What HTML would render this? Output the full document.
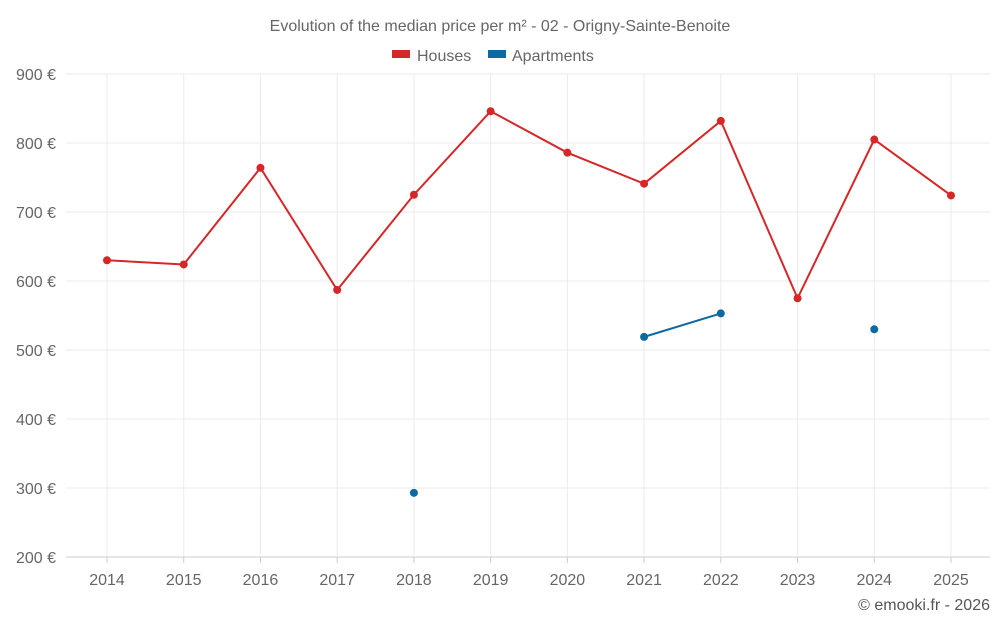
<!DOCTYPE html>
<html><head><meta charset="utf-8"><style>
body{margin:0;background:#fff;font-family:"Liberation Sans",sans-serif;}
svg{display:block}
</style></head><body>
<svg id="chart" width="1000" height="625">
<text x="500" y="31" text-anchor="middle" font-size="16" fill="#666">Evolution of the median price per m² - 02 - Origny-Sainte-Benoite</text>
<g>
<g><rect x="392" y="50" width="18" height="8" fill="#d62728"/><text x="417" y="61" font-size="16" fill="#666">Houses</text></g>
<g><rect x="488" y="50" width="18" height="8" fill="#0b6aa2"/><text x="512" y="61" font-size="16" fill="#666">Apartments</text></g>
</g>
<g id="grid"></g><g id="axes"></g><g id="series"></g>
<text x="990" y="610" text-anchor="end" font-size="16" fill="#555">© emooki.fr - 2026</text>
</svg>
<script>
const years=[2014,2015,2016,2017,2018,2019,2020,2021,2022,2023,2024,2025];
const houses=[630,624,764,587,725,846,786,741,832,575,805,724];
const apartments=[null,null,null,null,293,null,null,519,553,null,530,null];
const yTicks=[200,300,400,500,600,700,800,900];
const NS="http://www.w3.org/2000/svg";
const L=66,R=990,T=74,B=557;
const x=i=>107+i*(951-107)/(years.length-1);
const y=v=>B-(v-200)/700*(B-T);
function mk(tag,attrs,parent){const e=document.createElementNS(NS,tag);for(const k in attrs)e.setAttribute(k,attrs[k]);document.getElementById(parent).appendChild(e);return e;}
yTicks.forEach(v=>{
 const g=mk('line',{x1:L,x2:R,y1:y(v),y2:y(v),stroke:v===200?'#ccc':'#ebebeb'},'grid');
 
 
 const t=mk('text',{x:56,y:y(v)+6,'text-anchor':'end','font-size':16,fill:'#666'},'axes');
 t.textContent=v+' €';
 
 
});
years.forEach((yr,i)=>{
 const g=mk('line',{x1:x(i),x2:x(i),y1:T,y2:B,stroke:'#ebebeb'},'grid');
 
 
 const tk=mk('line',{x1:x(i),x2:x(i),y1:B,y2:B+6,stroke:'#ccc'},'axes');
 
 
 const t=mk('text',{x:x(i),y:585,'text-anchor':'middle','font-size':16,fill:'#666'},'axes');
 t.textContent=yr;
 
 
});
function drawSeries(vals,color,name){
 let seg=[];
 const flush=()=>{if(seg.length>1){const p=mk('polyline',{points:seg.join(' '),fill:'none',stroke:color,'stroke-width':2},'series');
  
  }seg=[];};
 vals.forEach((v,i)=>{if(v==null){flush();return;}seg.push(x(i)+','+y(v));});
 flush();
 vals.forEach((v,i)=>{if(v==null)return;
  const c=mk('circle',{cx:x(i),cy:y(v),r:4,fill:color},'series');
  
  });
}
drawSeries(houses,'#d62728','houses');
drawSeries(apartments,'#0b6aa2','apartments');
</script>
</body></html>
